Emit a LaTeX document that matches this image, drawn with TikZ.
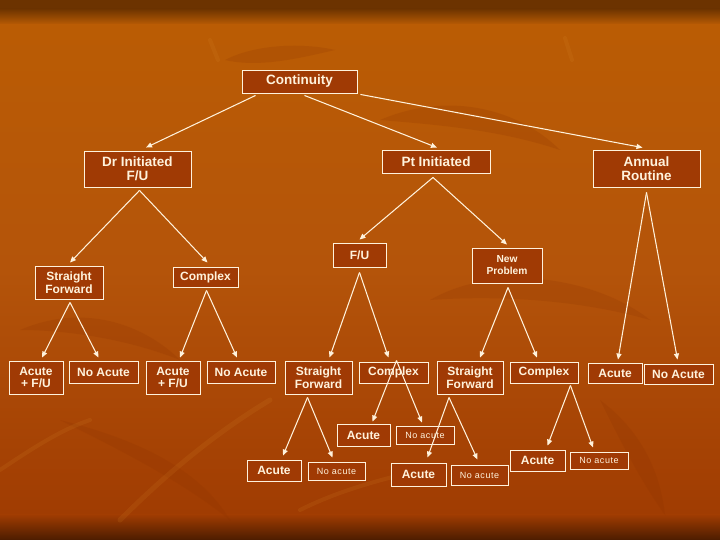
\documentclass[tikz,border=0pt]{standalone}
\usepackage{fontspec}
\setmainfont{Liberation Sans}
\newfontfamily\myspacedfont[LetterSpace=6]{Liberation Sans}
\usetikzlibrary{arrows.meta,calc}
\definecolor{cream}{HTML}{FFF2DC}
\definecolor{boxfill}{HTML}{A03A04}
\definecolor{bgtop}{HTML}{6C3300}
\definecolor{bgor}{HTML}{BA5C04}
\definecolor{bgmid}{HTML}{B4540A}
\definecolor{bglow}{HTML}{A03C02}
\definecolor{bgbot}{HTML}{4C1C00}
\definecolor{leafdark}{HTML}{8A3000}
\definecolor{leaflight}{HTML}{D88A2A}
\newcommand\myfbig{\fontsize{13.5}{14}\selectfont\bfseries}
\newcommand\myfmid{\fontsize{12}{12.5}\selectfont\bfseries}
\newcommand\myfsm{\fontsize{10.2}{12}\selectfont\bfseries}
\newcommand\myftiny{\myspacedfont\fontsize{9}{10}\selectfont}
\tikzset{
  box/.style={draw=cream, fill=boxfill, line width=0.9pt, text=cream, inner sep=0pt, align=center},
  big/.style={box, font=\myfbig},
  mid/.style={box, font=\myfmid},
  sm/.style={box, font=\myfsm},
  tiny/.style={box, font=\myftiny},
  arr/.style={draw=cream, line width=1.05pt, -{Triangle[length=6pt,width=5pt]}},
  leafd/.style={fill=leafdark, opacity=0.18},
  leafl/.style={draw=leaflight, opacity=0.14, line cap=round}
}
\begin{document}
\begin{tikzpicture}[x=1pt,y=-1pt]
\useasboundingbox (0,0) rectangle (720,540);
% background
\fill[bgtop] (0,0) rectangle (720,9);
\fill[top color=bgtop,bottom color=bgor] (0,8.5) rectangle (720,25);
\fill[top color=bgor,bottom color=bgmid] (0,24.5) rectangle (720,270);
\fill[top color=bgmid,bottom color=bglow] (0,269.5) rectangle (720,515);
\fill[top color=bglow,bottom color=bgbot] (0,514.5) rectangle (720,540);
% faint leaf decoration
\fill[leafd] (225,60) .. controls (260,42) and (310,44) .. (335,50) .. controls (300,58) and (260,68) .. (225,60);
\fill[leafd] (380,120) .. controls (450,90) and (520,110) .. (560,150) .. controls (500,130) and (440,125) .. (380,120);
\fill[leafd] (20,330) .. controls (90,300) and (150,330) .. (180,360) .. controls (130,340) and (70,330) .. (20,330);
\fill[leafd] (430,300) .. controls (500,260) and (600,280) .. (650,320) .. controls (580,300) and (500,295) .. (430,300);
\fill[leafd] (60,420) .. controls (140,440) and (200,470) .. (230,520) .. controls (180,480) and (120,450) .. (60,420);
\fill[leafd] (600,400) .. controls (640,430) and (660,470) .. (665,515) .. controls (640,480) and (620,440) .. (600,400);
\draw[leafl, line width=4pt] (210,40) -- (218,60);
\draw[leafl, line width=4pt] (565,38) -- (572,60);
\draw[leafl, line width=5pt] (120,520) .. controls (170,470) and (220,430) .. (270,400);
\draw[leafl, line width=4pt] (300,510) .. controls (340,490) and (380,480) .. (420,470);
\draw[leafl, line width=4pt] (0,470) .. controls (30,450) and (60,430) .. (90,420);
% nodes
\node[big, minimum width=115pt, minimum height=23pt] (cont) at (299.5,81.5) {Continuity};
\node[big, minimum width=107pt, minimum height=36pt] (dr) at (137.5,169) {Dr Initiated\\F/U};
\node[big, minimum width=108pt, minimum height=23pt] (pt) at (436,161.5) {Pt Initiated};
\node[big, minimum width=107pt, minimum height=37pt] (ann) at (646.5,168.5) {Annual\\Routine};
\node[mid, minimum width=68pt, minimum height=33pt] (sf1) at (69,282.5) {Straight\\Forward};
\node[mid, minimum width=65pt, minimum height=20pt] (cx1) at (205.5,277) {Complex};
\node[mid, minimum width=53pt, minimum height=24pt] (fu) at (359.5,255) {F/U};
\node[sm, minimum width=70pt, minimum height=35pt] (np) at (507,265.5) {New\\Problem};
\node[mid, minimum width=54pt, minimum height=33pt] (a1) at (36,377.5) {Acute\\+ F/U};
\node[mid, minimum width=69pt, minimum height=22pt] (na1) at (103.5,372) {No Acute};
\node[mid, minimum width=54pt, minimum height=33pt] (a2) at (173,377.5) {Acute\\+ F/U};
\node[mid, minimum width=68pt, minimum height=22pt] (na2) at (241,372) {No Acute};
\node[mid, minimum width=67pt, minimum height=33pt] (sf2) at (318.5,377.5) {Straight\\Forward};
\node[mid, minimum width=69pt, minimum height=21pt] (cx2) at (393.5,372.5) {Complex};
\node[mid, minimum width=66pt, minimum height=33pt] (sf3) at (470,377.5) {Straight\\Forward};
\node[mid, minimum width=68pt, minimum height=21pt] (cx3) at (544,372.5) {Complex};
\node[mid, minimum width=54pt, minimum height=20pt] (ac1) at (615,373) {Acute};
\node[mid, minimum width=69pt, minimum height=20pt] (na3) at (678.5,374) {No Acute};
\node[mid, minimum width=53pt, minimum height=22pt] (ac2) at (363.5,435) {Acute};
\node[tiny, minimum width=58pt, minimum height=18pt] (nac1) at (425,435) {No acute};
\node[mid, minimum width=55pt, minimum height=21pt] (ac3) at (537.5,460.5) {Acute};
\node[tiny, minimum width=58pt, minimum height=17pt] (nac2) at (599,460.5) {No acute};
\node[mid, minimum width=54pt, minimum height=21pt] (ac4) at (274,470.5) {Acute};
\node[tiny, minimum width=57pt, minimum height=18pt] (nac3) at (336.5,471) {No acute};
\node[mid, minimum width=55pt, minimum height=23pt] (ac5) at (418.5,474.5) {Acute};
\node[tiny, minimum width=57pt, minimum height=20pt] (nac4) at (479.5,475) {No acute};
% connectors
\draw[arr] ($(cont.south west)+(14,2)$) -- ($(dr.north)+(8.5,-3)$);
\draw[arr] ($(cont.south)+(5,2)$) -- ($(pt.north)+(1,-2)$);
\draw[arr] ($(cont.south east)+(3,1)$) -- ($(ann.north)+(-4,-2)$);
\draw[arr] ($(dr.south)+(2,3)$) -- ($(sf1.north)+(1,-3)$);
\draw[arr] ($(dr.south)+(2,3)$) -- ($(cx1.north)+(2,-4)$);
\draw[arr] ($(pt.south)+(-3,4)$) -- ($(fu.north)+(0,-3)$);
\draw[arr] ($(pt.south)+(-3,4)$) -- ($(np.north)+(0,-3)$);
\draw[arr] ($(ann.south)+(0,5)$) -- ($(ac1.north)+(3,-3)$);
\draw[arr] ($(ann.south)+(0,5)$) -- ($(na3.north)+(-1,-4)$);
\draw[arr] ($(sf1.south)+(1,3)$) -- ($(a1.north)+(6,-3)$);
\draw[arr] ($(sf1.south)+(1,3)$) -- ($(na1.north)+(-5,-3)$);
\draw[arr] ($(cx1.south)+(1,3)$) -- ($(a2.north)+(7,-3)$);
\draw[arr] ($(cx1.south)+(1,3)$) -- ($(na2.north)+(-4,-3)$);
\draw[arr] ($(fu.south)+(0,5)$) -- ($(sf2.north)+(11,-3)$);
\draw[arr] ($(fu.south)+(0,5)$) -- ($(cx2.north)+(-5,-4)$);
\draw[arr] ($(np.south)+(1,4)$) -- ($(sf3.north)+(10,-3)$);
\draw[arr] ($(np.south)+(1,4)$) -- ($(cx3.north)+(-7,-4)$);
\draw[arr] ($(sf2.south)+(-11,3)$) -- ($(ac4.north)+(9,-4)$);
\draw[arr] ($(sf2.south)+(-11,3)$) -- ($(nac3.north)+(-4,-4)$);
\draw[arr] ($(cx2.north)+(3,-1)$) -- ($(ac2.north)+(9,-2)$);
\draw[arr] ($(cx2.north)+(3,-1)$) -- ($(nac1.north)+(-3,-3)$);
\draw[arr] ($(sf3.south)+(-21,3)$) -- ($(ac5.north)+(9,-5)$);
\draw[arr] ($(sf3.south)+(-21,3)$) -- ($(nac4.north)+(-2,-5)$);
\draw[arr] ($(cx3.south east)+(-8,2)$) -- ($(ac3.north)+(10,-4)$);
\draw[arr] ($(cx3.south east)+(-8,2)$) -- ($(nac2.north)+(-6,-4)$);
\end{tikzpicture}
\end{document}
